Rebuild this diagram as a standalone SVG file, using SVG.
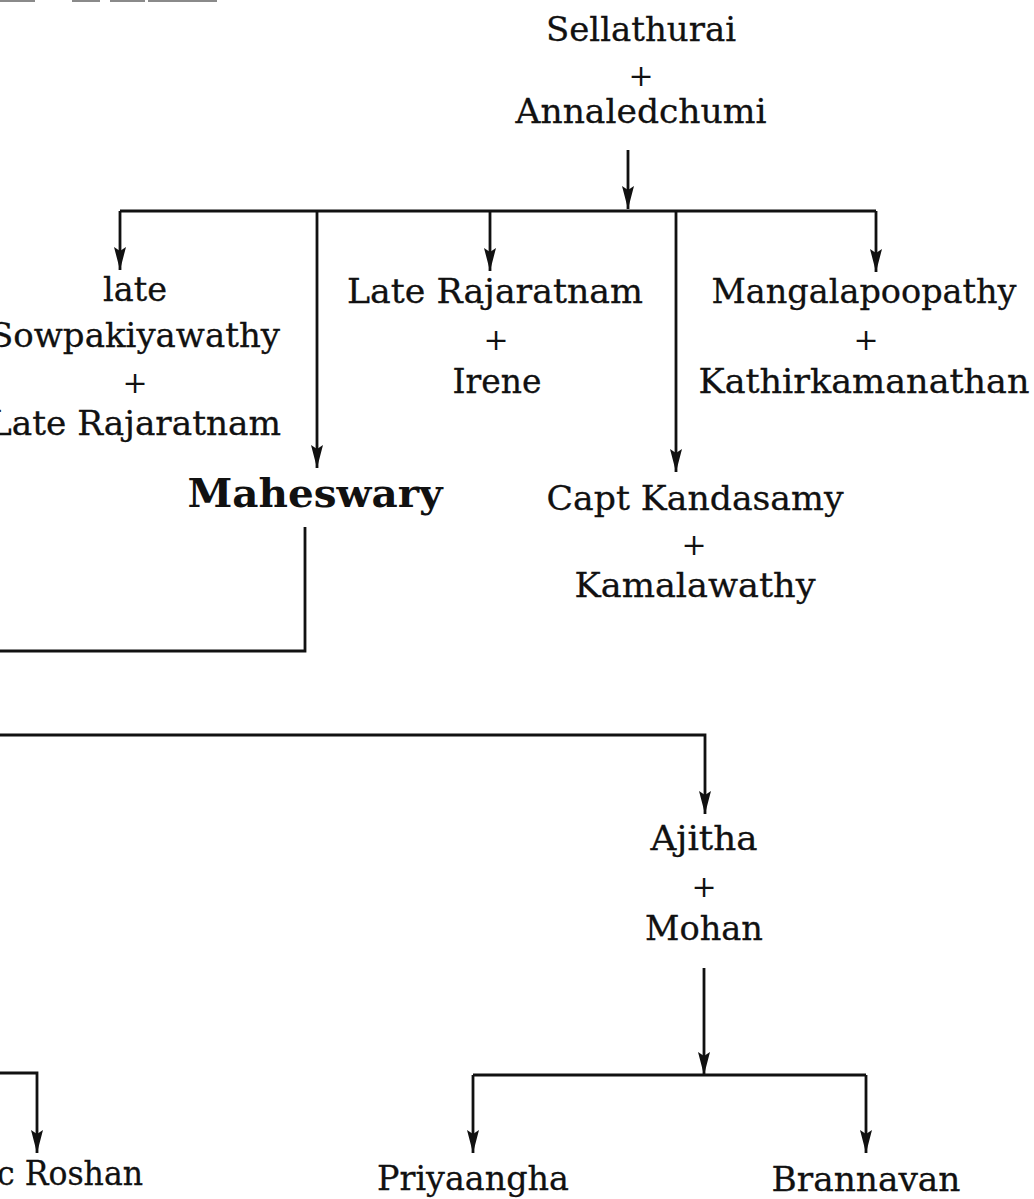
<svg xmlns="http://www.w3.org/2000/svg" width="1034" height="1199" viewBox="0 0 1034 1199">
  <defs>
    <marker id="arr" viewBox="-24 -7 26 14" markerWidth="26" markerHeight="14" refX="0" refY="0" orient="auto" markerUnits="userSpaceOnUse">
      <path d="M0,0 L-23,-6 L-19,0 L-23,6 Z" fill="#111"/>
    </marker>
    <style>
      .t { font-family: "DejaVu Serif", "Liberation Serif", serif; font-size: 34px; fill: #111; stroke: #111; stroke-width: 0.3; text-anchor: middle; }
      .p { font-family: "DejaVu Serif", "Liberation Serif", serif; font-size: 30px; fill: #111; text-anchor: middle; }
      .b { font-family: "DejaVu Serif", "Liberation Serif", serif; font-size: 40px; font-weight: bold; fill: #111; text-anchor: middle; }
      .ln { fill: none; stroke: #111; stroke-width: 2.8; }
      .ar { fill: none; stroke: #111; stroke-width: 2.8; marker-end: url(#arr); }
    </style>
  </defs>
  <rect width="1034" height="1199" fill="#ffffff"/>

  <g id="title-fragment" fill="#8a8a8a">
    <rect x="0" y="0" width="35" height="2"/>
    <rect x="72" y="0" width="28" height="2"/>
    <rect x="110" y="0" width="35" height="2"/>
    <rect x="148" y="0" width="69" height="2"/>
  </g>

  <g id="connectors">
    <line class="ar" x1="628" y1="150" x2="628" y2="209"/>
    <line class="ln" x1="120" y1="211" x2="876" y2="211"/>
    <line class="ar" x1="120" y1="211" x2="120" y2="270"/>
    <line class="ar" x1="317" y1="211" x2="317" y2="468"/>
    <line class="ar" x1="490" y1="211" x2="490" y2="271"/>
    <line class="ar" x1="676" y1="211" x2="676" y2="472"/>
    <line class="ar" x1="876" y1="211" x2="876" y2="272"/>
    <polyline class="ln" points="305,527 305,651 0,651"/>
    <polyline class="ar" points="0,735 705,735 705,814"/>
    <line class="ar" x1="704" y1="968" x2="704" y2="1075"/>
    <line class="ln" x1="473" y1="1075" x2="866" y2="1075"/>
    <line class="ar" x1="473" y1="1075" x2="473" y2="1153"/>
    <line class="ar" x1="866" y1="1075" x2="866" y2="1153"/>
    <polyline class="ar" points="0,1073 37,1073 37,1153"/>
  </g>

  <g id="n-sellathurai">
    <text class="t" x="641" y="41" textLength="190" lengthAdjust="spacingAndGlyphs">Sellathurai</text>
    <text class="p" x="641" y="86">+</text>
    <text class="t" x="641" y="123" textLength="251" lengthAdjust="spacingAndGlyphs">Annaledchumi</text>
  </g>

  <g id="n-sowpakiyawathy">
    <text class="t" x="135" y="301" textLength="64" lengthAdjust="spacingAndGlyphs">late</text>
    <text class="t" x="135" y="347" textLength="290" lengthAdjust="spacingAndGlyphs">Sowpakiyawathy</text>
    <text class="p" x="135" y="393">+</text>
    <text class="t" x="135" y="435" textLength="292" lengthAdjust="spacingAndGlyphs">Late Rajaratnam</text>
  </g>

  <g id="n-maheswary">
    <text class="b" x="315" y="507" textLength="255" lengthAdjust="spacingAndGlyphs">Maheswary</text>
  </g>

  <g id="n-rajaratnam-irene">
    <text class="t" x="495" y="303" textLength="296" lengthAdjust="spacingAndGlyphs">Late Rajaratnam</text>
    <text class="p" x="496" y="350">+</text>
    <text class="t" x="497" y="393" textLength="89" lengthAdjust="spacingAndGlyphs">Irene</text>
  </g>

  <g id="n-mangalapoopathy">
    <text class="t" x="864" y="303" textLength="305" lengthAdjust="spacingAndGlyphs">Mangalapoopathy</text>
    <text class="p" x="866" y="350">+</text>
    <text class="t" x="864" y="393" textLength="331" lengthAdjust="spacingAndGlyphs">Kathirkamanathan</text>
  </g>

  <g id="n-kandasamy">
    <text class="t" x="695" y="510" textLength="297" lengthAdjust="spacingAndGlyphs">Capt Kandasamy</text>
    <text class="p" x="694" y="555">+</text>
    <text class="t" x="695" y="597" textLength="241" lengthAdjust="spacingAndGlyphs">Kamalawathy</text>
  </g>

  <g id="n-ajitha">
    <text class="t" x="704" y="850" textLength="107" lengthAdjust="spacingAndGlyphs">Ajitha</text>
    <text class="p" x="704" y="897">+</text>
    <text class="t" x="704" y="940" textLength="118" lengthAdjust="spacingAndGlyphs">Mohan</text>
  </g>

  <g id="n-roshan">
    <text class="t" x="143" y="1185" style="text-anchor:end" textLength="146" lengthAdjust="spacingAndGlyphs">c Roshan</text>
  </g>

  <g id="n-priyaangha">
    <text class="t" x="473" y="1190" textLength="192" lengthAdjust="spacingAndGlyphs">Priyaangha</text>
  </g>

  <g id="n-brannavan">
    <text class="t" x="866" y="1191" textLength="189" lengthAdjust="spacingAndGlyphs">Brannavan</text>
  </g>
</svg>
